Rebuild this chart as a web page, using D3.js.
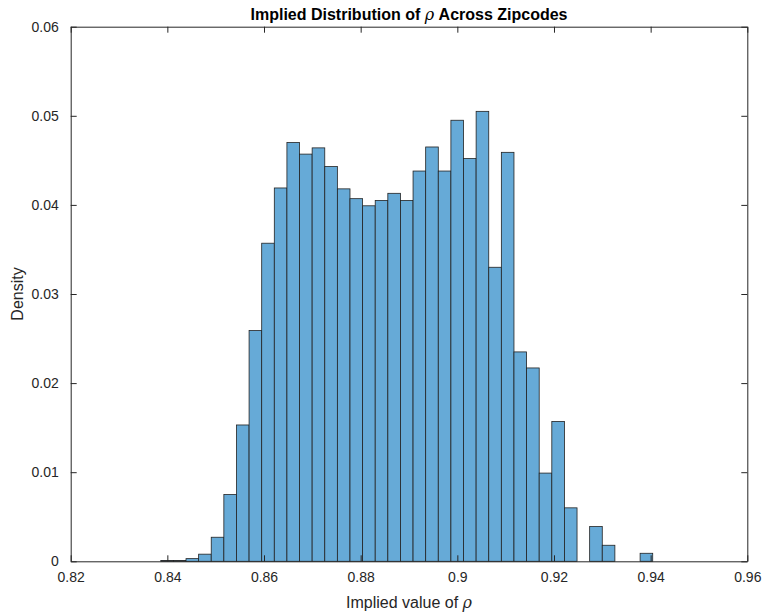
<!DOCTYPE html>
<html>
<head>
<meta charset="utf-8">
<script src="https://cdn.jsdelivr.net/npm/d3@7"></script>
<style>
  body { margin: 0; background: #ffffff; }
  svg { display: block; font-family: "Liberation Sans", Arial, sans-serif; }
</style>
</head>
<body>
<div id="chart"></div>
<script>
// histogram bins (left edge of each bin) and their density values
const binWidth = 0.00261;
const binLeft = [
  0.83864, 0.84125, 0.84386, 0.84647, 0.84908, 0.85169, 0.85430, 0.85691,
  0.85952, 0.86213, 0.86474, 0.86735, 0.86996, 0.87257, 0.87518, 0.87779,
  0.88040, 0.88301, 0.88562, 0.88823, 0.89084, 0.89345, 0.89606, 0.89867,
  0.90128, 0.90389, 0.90650, 0.90911, 0.91172, 0.91433, 0.91694, 0.91955,
  0.92216, 0.92477, 0.92738, 0.92999, 0.93260, 0.93521, 0.93782
];
const density = [
  0.0001, 0.0001, 0.0003, 0.0008, 0.0027, 0.0075, 0.0153, 0.0259,
  0.0357, 0.0419, 0.0470, 0.0457, 0.0464, 0.0443, 0.0418, 0.0407,
  0.0399, 0.0405, 0.0413, 0.0405, 0.0438, 0.0465, 0.0438, 0.0495,
  0.0452, 0.0505, 0.0330, 0.0459, 0.0235, 0.0217, 0.0099, 0.0157,
  0.0060, 0, 0.0039, 0.0018, 0, 0, 0.0009
];

const xTicks = [0.82, 0.84, 0.86, 0.88, 0.90, 0.92, 0.94, 0.96];
const xTickLabels = ['0.82', '0.84', '0.86', '0.88', '0.9', '0.92', '0.94', '0.96'];
const yTicks = [0, 0.01, 0.02, 0.03, 0.04, 0.05, 0.06];
const yTickLabels = ['0', '0.01', '0.02', '0.03', '0.04', '0.05', '0.06'];

const width = 766;
const height = 614;
const margin = { top: 26.7, right: 18.7, bottom: 52.7, left: 70.7 };
const plotW = width - margin.left - margin.right;
const plotH = height - margin.top - margin.bottom;
const axisColor = '#262626';

const svg = d3.select('#chart')
  .append('svg')
  .attr('width', width)
  .attr('height', height);

const g = svg.append('g')
  .attr('transform', `translate(${margin.left},${margin.top})`);

const x = d3.scaleLinear().domain([0.82, 0.96]).range([0, plotW]);
const y = d3.scaleLinear().domain([0, 0.06]).range([plotH, 0]);

// bars
g.append('g')
  .selectAll('rect')
  .data(binLeft)
  .enter()
  .append('rect')
  .attr('x', d => x(d))
  .attr('width', d => x(d + binWidth) - x(d))
  .attr('y', (d, i) => y(density[i]))
  .attr('height', (d, i) => y(0) - y(density[i]))
  .attr('fill', '#66aad7')
  .attr('stroke', '#222222')
  .attr('stroke-width', 0.8);

// axes (box with inward ticks)
const xFmt = (d, i) => xTickLabels[i];
const yFmt = (d, i) => yTickLabels[i];

const axBottom = g.append('g')
  .attr('transform', `translate(0,${plotH})`)
  .call(d3.axisBottom(x).tickValues(xTicks).tickFormat(xFmt)
    .tickSizeInner(-6).tickSizeOuter(0).tickPadding(11));
const axTop = g.append('g')
  .call(d3.axisTop(x).tickValues(xTicks).tickFormat('')
    .tickSizeInner(-6).tickSizeOuter(0));
const axLeft = g.append('g')
  .call(d3.axisLeft(y).tickValues(yTicks).tickFormat(yFmt)
    .tickSizeInner(-6).tickSizeOuter(0).tickPadding(12));
const axRight = g.append('g')
  .attr('transform', `translate(${plotW},0)`)
  .call(d3.axisRight(y).tickValues(yTicks).tickFormat('')
    .tickSizeInner(-6).tickSizeOuter(0));

[axBottom, axTop, axLeft, axRight].forEach(ax => {
  ax.selectAll('path, line').attr('stroke', axisColor);
  ax.selectAll('text')
    .attr('fill', axisColor)
    .style('font-size', '14px')
    .style('font-family', '"Liberation Sans", Arial, sans-serif');
});

// title
const title = svg.append('text')
  .attr('x', margin.left + plotW / 2)
  .attr('y', 20)
  .attr('text-anchor', 'middle')
  .attr('fill', '#000000')
  .style('font-size', '16px')
  .style('font-weight', 'bold');
title.append('tspan').text('Implied Distribution of ');
title.append('tspan')
  .style('font-family', '"DejaVu Serif", serif')
  .style('font-style', 'italic')
  .style('font-weight', 'normal')
  .text('ρ');
title.append('tspan').text(' Across Zipcodes');

// x label
const xLabel = svg.append('text')
  .attr('x', margin.left + plotW / 2)
  .attr('y', 608)
  .attr('text-anchor', 'middle')
  .attr('fill', axisColor)
  .style('font-size', '16px');
xLabel.append('tspan').text('Implied value of ');
xLabel.append('tspan')
  .style('font-family', '"DejaVu Serif", serif')
  .style('font-style', 'italic')
  .text('ρ');

// y label
svg.append('text')
  .attr('transform', `translate(23,${margin.top + plotH / 2}) rotate(-90)`)
  .attr('text-anchor', 'middle')
  .attr('fill', axisColor)
  .style('font-size', '16px')
  .text('Density');
</script>
</body>
</html>
